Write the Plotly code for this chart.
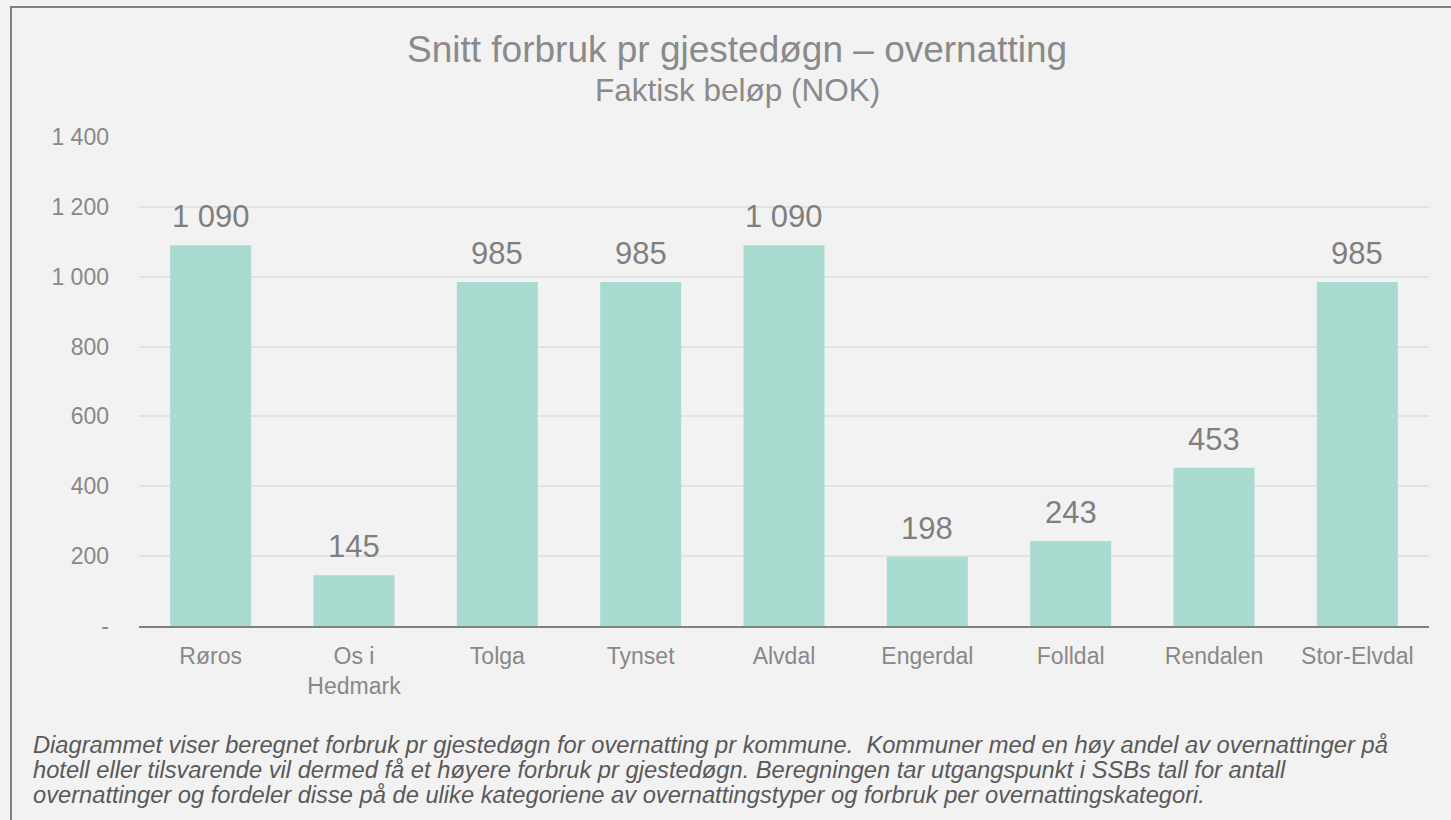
import plotly.graph_objects as go

categories = ["Røros", "Os i<br>Hedmark", "Tolga", "Tynset", "Alvdal", "Engerdal", "Folldal", "Rendalen", "Stor-Elvdal"]
values = [1090, 145, 985, 985, 1090, 198, 243, 453, 985]
value_labels = ["1 090", "145", "985", "985", "1 090", "198", "243", "453", "985"]
tick_vals = [0, 200, 400, 600, 800, 1000, 1200, 1400]
tick_text = ["-", "200", "400", "600", "800", "1 000", "1 200", "1 400"]
title = "Snitt forbruk pr gjestedøgn – overnatting"
subtitle = "Faktisk beløp (NOK)"
note_lines = [
    "Diagrammet viser beregnet forbruk pr gjestedøgn for overnatting pr kommune.  Kommuner med en høy andel av overnattinger på",
    "hotell eller tilsvarende vil dermed få et høyere forbruk pr gjestedøgn. Beregningen tar utgangspunkt i SSBs tall for antall",
    "overnattinger og fordeler disse på de ulike kategoriene av overnattingstyper og forbruk per overnattingskategori.",
]

W, H = 1451, 820
L, R, T, B = 139, 22, 137, 194
pw, ph = W - L - R, H - T - B
FONT = "Liberation Sans, Arial, sans-serif"

def px(x):
    return (x - L) / pw

def py(y):
    return (H - B - y) / ph

fig = go.Figure(go.Bar(
    x=categories, y=values,
    marker=dict(color="#a9dbd1", line=dict(width=0)),
    hoverinfo="skip",
))

annotations = []
for c, v, lab in zip(categories, values, value_labels):
    annotations.append(dict(x=c, y=v, xref="x", yref="y", text=lab, showarrow=False,
                            xanchor="center", yanchor="bottom", yshift=9,
                            font=dict(family=FONT, size=31, color="#7f7f7f")))

annotations += [
    dict(text=title, xref="paper", yref="paper",
         x=px(737), y=py(50), xanchor="center", yanchor="middle", showarrow=False,
         font=dict(family=FONT, size=37, color="#8a8a8a")),
    dict(text=subtitle, xref="paper", yref="paper",
         x=px(737), y=py(90), xanchor="center", yanchor="middle", showarrow=False,
         font=dict(family=FONT, size=31.5, color="#8a8a8a")),
]
for i, line in enumerate(note_lines):
    annotations.append(dict(text="<i>" + line + "</i>", xref="paper", yref="paper",
                            x=px(31), y=py(745 + 25 * i), xanchor="left", yanchor="middle",
                            align="left", showarrow=False,
                            font=dict(family=FONT, size=23.7, color="#595959")))

fig.update_layout(
    width=W, height=H,
    margin=dict(l=L, r=R, t=T, b=B, pad=0),
    paper_bgcolor="#f2f2f2", plot_bgcolor="#f2f2f2",
    bargap=0.435,
    showlegend=False,
    font=dict(family=FONT, color="#888888"),
    xaxis=dict(showgrid=False, showline=True, linecolor="#808080", linewidth=2,
               tickfont=dict(size=23, color="#888888"), ticks="", ticklabelstandoff=8),
    yaxis=dict(range=[0, 1400], tickvals=tick_vals, ticktext=tick_text,
               showgrid=True, gridcolor="#e2e2e2", gridwidth=2, zeroline=False,
               showline=False, tickfont=dict(size=23, color="#888888"), ticks="",
               ticklabelstandoff=29),
    shapes=[dict(type="rect", xref="paper", yref="paper",
                 x0=px(11), x1=px(1460), y0=py(830), y1=py(7),
                 line=dict(color="#808080", width=2), fillcolor="rgba(0,0,0,0)", layer="below")],
    annotations=annotations,
)

fig.write_html("out.html", config={"displayModeBar": False},
               post_script="document.body.style.margin='0';document.body.style.overflow='hidden';")
